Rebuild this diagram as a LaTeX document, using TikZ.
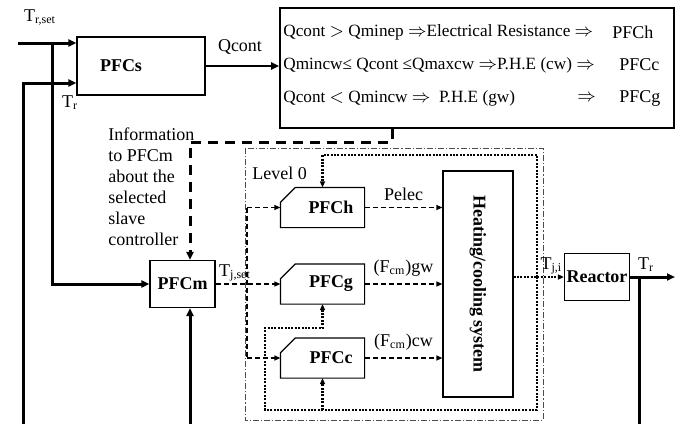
\documentclass[tikz,border=0pt]{standalone}
\usepackage{fontspec}
\setmainfont{Liberation Serif}
\usepackage{tikz}
\usetikzlibrary{arrows.meta}

% outline of a slave controller box, top left corner cut
\newcommand{\chamferbox}[1]{%
    \draw[line width=0.6pt] ([yshift=-7.5pt]#1.north west) -- ([xshift=7.5pt]#1.north west)
        -- (#1.north east) -- (#1.south east) -- (#1.south west) -- cycle;}

\begin{document}
\begin{tikzpicture}[x=0.5pt, y=-0.5pt, font=\fontsize{9}{10.5}\selectfont,
    >={Triangle[length=4pt, width=3.5pt]},
    blk/.style={draw, line width=0.6pt, inner sep=1pt, font=\fontsize{9}{10.5}\selectfont\bfseries},
    chbox/.style={blk, draw=none, minimum width=41.5pt, minimum height=19.5pt},
    rule/.style={anchor=west, inner sep=0pt, font=\fontsize{8.6}{10}\selectfont},
    sig/.style={line width=1.5pt},
    info/.style={line width=1.5pt, dash pattern=on 5pt off 3.5pt},
    ctrl/.style={line width=0.6pt, dash pattern=on 2.5pt off 1.5pt, >={Triangle[length=3pt, width=2.5pt]}},
    loop/.style={line width=1.4pt, dash pattern=on 1pt off 0.7pt, >={Triangle[length=3pt, width=2.5pt]}},
    frame/.style={line width=0.5pt, gray!60!black, dash pattern=on 3pt off 1pt on 0.6pt off 1pt}]
    \useasboundingbox (0,0) rectangle (692,424);

    % Master level
    \node[blk, minimum width=64pt, minimum height=29pt] (pfcs) at (141,66) {\hspace*{-20pt}PFCs};
    \node[blk, minimum width=32.5pt, minimum height=23.5pt] (pfcm) at (182.5,284) {PFCm};
    \node[draw, line width=0.8pt, minimum width=197pt, minimum height=60pt] (rules) at (477,68) {};

    % Selection rules
    \node[rule] at (283,32) {Qcont $>$ Qminep $\Rightarrow$Electrical Resistance $\Rightarrow$};
    \node[rule] at (283,65) {Qmincw≤ Qcont ≤Qmaxcw $\Rightarrow$P.H.E (cw) $\Rightarrow$};
    \node[rule] at (283,98) {Qcont $<$ Qmincw $\Rightarrow$ \ P.H.E (gw)};
    \node[rule] at (577,98) {$\Rightarrow$};
    \node[rule, font=\fontsize{9}{10.5}\selectfont] at (612,32) {PFCh};
    \node[rule, font=\fontsize{9}{10.5}\selectfont] at (619,65) {PFCc};
    \node[rule, font=\fontsize{9}{10.5}\selectfont] at (619,98) {PFCg};

    % Level 0
    \draw[frame] (245,148) rectangle (543,420);
    \node[rule, font=\fontsize{9}{10.5}\selectfont] at (252,173) {Level 0};
    \node[chbox] (pfch) at (322.5,207.5) {\hspace*{8.5pt}PFCh};
    \node[chbox] (pfcg) at (322.5,284) {\hspace*{8.5pt}PFCg};
    \node[chbox] (pfcc) at (322.5,358) {\hspace*{8.5pt}PFCc};
    \chamferbox{pfch}
    \chamferbox{pfcg}
    \chamferbox{pfcc}
    \node[blk, minimum width=35pt, minimum height=113pt,
        label={[rotate=-90, font=\fontsize{9}{10.5}\selectfont\bfseries]center:Heating/cooling system}] (heat) at (478,284) {};
    \node[blk, minimum width=32pt, minimum height=23.5pt] (reactor) at (597,277) {Reactor};

    % Labels
    \node at (40,18) {T\textsubscript{r,set}};
    \node at (70,103) {T\textsubscript{r}};
    \node at (240,47) {Qcont};
    \node at (646,265) {T\textsubscript{r}};
    \node[anchor=north west, align=left, inner sep=0pt] at (108,127)
        {Information\\to PFCm\\about the\\selected\\slave\\controller};

    % Thick signal lines
    \coordinate (trset) at (18,43);
    \coordinate (split) at (52,43);
    \coordinate (trfb) at (23,424);
    \coordinate (pfcmfb) at (190,424);
    \coordinate (trout) at (675,277);
    \coordinate (reacfb) at (639,424);
    \draw[sig, ->] (trset) -- ([yshift=11.5pt]pfcs.west);
    \draw[sig, ->] (split) |- (pfcm.west);
    \draw[sig, ->] (trfb) |- ([yshift=-8.5pt]pfcs.west);
    \draw[sig, ->] (pfcmfb) -- (pfcmfb |- pfcm.south);
    \draw[line width=1pt, ->] (pfcs.east) -- (rules.west |- pfcs.east);
    \draw[sig, ->] (reactor.east) -- (trout);
    \draw[sig] (reacfb) -- (reacfb |- reactor.east);

    % Information to PFCm
    \coordinate (info) at (392,142);
    \draw[info, ->] (rules.south -| info) -- (info) -- (info -| pfcmfb) -- (pfcmfb |- pfcm.north);

    % Slave controllers
    \coordinate (bus) at (247,207.5);
    \draw[ctrl, ->] (pfcm.east) -- (pfcg.west) node[pos=0.3, above, inner sep=1pt] {T\textsubscript{j,set}};
    \draw[ctrl] (bus) -- (bus |- pfcc.west);
    \draw[ctrl, ->] (bus) -- (pfch.west);
    \draw[ctrl, ->] (bus |- pfcc.west) -- (pfcc.west);
    \draw[ctrl, ->] (pfch.east) -- (pfch.east -| heat.west) node[midway, above] {Pelec};
    \draw[ctrl, ->] (pfcg.east) -- (pfcg.east -| heat.west) node[midway, above] {(F\textsubscript{cm})gw};
    \draw[ctrl, ->] (pfcc.east) -- (pfcc.east -| heat.west) node[midway, above] {(F\textsubscript{cm})cw};

    % Jacket temperature and feedback loop
    \coordinate (jn) at (537,277);
    \coordinate (lpT) at (537,155);
    \coordinate (lpB) at (537,410);
    \coordinate (lpL) at (265,328);
    \draw[loop, ->] (heat.east |- reactor.west) -- (reactor.west) node[pos=0.75, above, inner sep=1pt] {T\textsubscript{j,i}};
    \draw[loop, ->] (jn) -- (lpT) -| (pfch.north);
    \draw[loop, ->] (jn) -- (lpB) -| (lpL) -| (pfcg.south);
    \draw[loop, ->] (lpB -| pfcc.south) -- (pfcc.south);
\end{tikzpicture}
\end{document}
